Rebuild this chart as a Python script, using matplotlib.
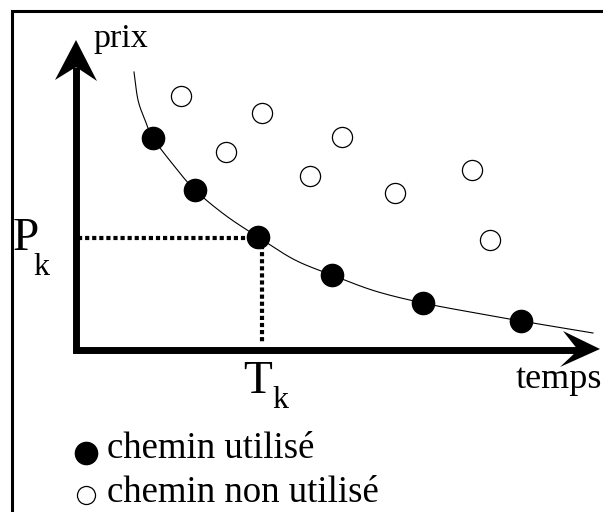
import numpy as np
import matplotlib
matplotlib.use("Agg")
import matplotlib.pyplot as plt
from matplotlib.patches import Polygon

plt.rcParams['font.family'] = ['Liberation Serif', 'DejaVu Serif']

# chart units: origin at the corner of the two axes, temps to the right, prix up
# chemins utilises (filled dots)
used_t = [77, 119, 182, 256, 347, 445]
used_p = [212, 160, 113, 75, 47, 29]

# chemins non utilises (open dots)
unused_t = [105, 186, 150, 266, 234, 319, 396, 414]
unused_p = [254, 237, 198, 213, 174, 157, 180, 110]

# lower envelope curve
curve_t = [58, 62, 69, 77, 99, 119, 149, 182, 219, 256, 299, 347, 394, 445, 517]
curve_p = [278, 250, 230, 212, 183, 160, 135, 113, 90, 75, 59, 47, 38, 29, 17]

# the highlighted point (T_k, P_k)
tk, pk = 186, 112


def catmull_rom(xs, ys, n=20):
    pts = np.column_stack([xs, ys]).astype(float)
    pts = np.vstack([2 * pts[0] - pts[1], pts, 2 * pts[-1] - pts[-2]])
    out = []
    for i in range(1, len(pts) - 2):
        p0, p1, p2, p3 = pts[i - 1], pts[i], pts[i + 1], pts[i + 2]
        t = np.linspace(0, 1, n, endpoint=False)[:, None]
        seg = 0.5 * ((2 * p1) + (-p0 + p2) * t + (2 * p0 - 5 * p1 + 4 * p2 - p3) * t ** 2
                     + (-p0 + 3 * p1 - 3 * p2 + p3) * t ** 3)
        out.append(seg)
    out.append(pts[-2][None, :])
    out = np.vstack(out)
    return out[:, 0], out[:, 1]


fig = plt.figure(figsize=(6.03, 5.12), dpi=100)
ax = fig.add_axes([0, 0, 1, 1])
ax.set_xlim(-76, 527)
ax.set_ylim(-162, 350)
ax.axis('off')

# outer frame (left and top edges visible)
ax.plot([-64, -64, 540], [-170, 339, 339], color='black', lw=2.2, solid_joinstyle='miter')

# axes
ax.plot([0, 0, 502], [283, 0, 0], color='black', lw=5, solid_joinstyle='miter',
        solid_capstyle='butt')
ax.add_patch(Polygon([[0, 310], [-21, 270], [0, 283], [21, 269]], closed=True,
                     color='black', lw=0))
ax.add_patch(Polygon([[524, 1], [487, 19], [502, 0], [484, -17]], closed=True,
                     color='black', lw=0))

# dotted guides to the highlighted point
dots = (0, (1, 0.7))
ax.plot([2, tk - 12], [pk, pk], color='black', lw=3, linestyle=dots)
ax.plot([tk, tk], [pk - 7, 7], color='black', lw=3, linestyle=dots)

# curve
cx, cy = catmull_rom(curve_t, curve_p)
ax.plot(cx, cy, color='black', lw=0.8)

# points
ax.plot(unused_t, unused_p, 'o', ms=14.5, mfc='white', mec='black', mew=0.9, ls='none')
ax.plot(used_t, used_p, 'o', ms=16, mfc='black', mec='black', ls='none')

# labels
ax.text(17, 303, 'prix', fontsize=24.5, ha='left', va='baseline')
ax.text(-63, 100, 'P', fontsize=34, ha='left', va='baseline')
ax.text(-43, 75, 'k', fontsize=23, ha='left', va='baseline')
ax.text(167, -43, 'T', fontsize=34, ha='left', va='baseline')
ax.text(196, -58, 'k', fontsize=23, ha='left', va='baseline')
ax.text(440, -38, 'temps', fontsize=26, ha='left', va='baseline')

# legend
ax.plot([10], [-103], 'o', ms=16, mfc='black', mec='black')
ax.plot([10], [-145], 'o', ms=13, mfc='white', mec='black', mew=0.9)
ax.text(31, -108, 'chemin utilisé', fontsize=26.5, ha='left', va='baseline')
ax.text(31, -152, 'chemin non utilisé', fontsize=26.5, ha='left', va='baseline')

fig.savefig('out.png', dpi=100)
